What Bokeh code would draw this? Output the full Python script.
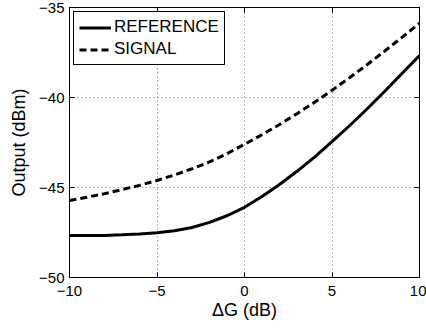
from bokeh.plotting import figure
from bokeh.models import Range1d, FixedTicker, LinearAxis, Legend, LegendItem
from bokeh.embed import file_html
from bokeh.resources import INLINE

# ---- data ----
delta_g = [-10, -9, -8, -7, -6, -5, -4, -3, -2, -1, 0, 1, 2, 3, 4, 5, 6, 7, 8, 9, 10]
reference = [-47.67, -47.67, -47.66, -47.63, -47.58, -47.52, -47.40, -47.22, -46.94,
             -46.57, -46.10, -45.50, -44.83, -44.10, -43.31, -42.45, -41.57, -40.64,
             -39.67, -38.67, -37.67]
signal = [-45.72, -45.54, -45.34, -45.12, -44.88, -44.61, -44.30, -43.96, -43.58,
          -43.12, -42.60, -42.07, -41.50, -40.90, -40.27, -39.60, -38.90, -38.18,
          -37.43, -36.66, -35.87]
x_ticks = [-10, -5, 0, 5, 10]
x_tick_labels = ["\u221210", "\u22125", "0", "5", "10"]
y_ticks = [-50, -45, -40, -35]
y_tick_labels = ["\u221250", "\u221245", "\u221240", "\u221235"]
series_names = ["REFERENCE", "SIGNAL"]
x_title = "\u0394G (dB)"
y_title = "Output (dBm)"

FONT = "Liberation Sans"

p = figure(width=426, height=332, output_backend="svg", toolbar_location=None,
           x_range=Range1d(-10, 10), y_range=Range1d(-50, -35),
           min_border_left=69, min_border_right=7, min_border_top=7, min_border_bottom=55,
           background_fill_color="white", border_fill_color="white")

p.outline_line_color = "black"
p.outline_line_width = 1
p.outline_line_alpha = 1

def style_axis(ax, ticks, labels, show_labels=True):
    ax.ticker = FixedTicker(ticks=ticks)
    ax.major_tick_in = 5
    ax.major_tick_out = 0
    ax.minor_tick_in = 0
    ax.minor_tick_out = 0
    ax.axis_line_color = "black"
    ax.axis_line_width = 1
    ax.major_tick_line_color = "black"
    ax.major_tick_line_width = 1
    if show_labels:
        ax.major_label_overrides = {t: l for t, l in zip(ticks, labels)}
        ax.major_label_text_font = FONT
        ax.major_label_text_color = "black"
        ax.major_label_text_font_size = "15px"
        ax.axis_label_text_font = FONT
        ax.axis_label_text_font_style = "normal"
        ax.axis_label_text_color = "black"
        ax.axis_label_text_font_size = "18px"
    else:
        ax.major_label_text_color = None
        ax.major_label_text_font_size = "1px"
        ax.major_label_standoff = 0

xa = p.xaxis[0]
style_axis(xa, x_ticks, x_tick_labels)
xa.axis_label = x_title
xa.major_label_standoff = 8
xa.axis_label_standoff = 1

ya = p.yaxis[0]
style_axis(ya, y_ticks, y_tick_labels)
ya.axis_label = y_title
ya.major_label_standoff = 5
ya.axis_label_standoff = 7

top_ax = LinearAxis()
style_axis(top_ax, x_ticks, x_tick_labels, show_labels=False)
p.add_layout(top_ax, "above")
right_ax = LinearAxis()
style_axis(right_ax, y_ticks, y_tick_labels, show_labels=False)
p.add_layout(right_ax, "right")

for g, t in ((p.xgrid[0], x_ticks), (p.ygrid[0], y_ticks)):
    g.ticker = FixedTicker(ticks=t)
    g.grid_line_color = "#444444"
    g.grid_line_alpha = 0.8
    g.grid_line_width = 1
    g.grid_line_dash = "1 3"

r1 = p.line(delta_g, reference, line_color="black", line_width=3)
r2 = p.line(delta_g, signal, line_color="black", line_width=3, line_dash="7 4")

legend = Legend(items=[LegendItem(label=series_names[0], renderers=[r1]),
                       LegendItem(label=series_names[1], renderers=[r2])],
                location="top_left")
legend.margin = 4
legend.padding = 5
legend.spacing = 2
legend.glyph_width = 32
legend.glyph_height = 19
legend.label_height = 19
legend.label_standoff = 3
legend.label_text_font = FONT
legend.label_text_font_size = "17px"
legend.label_text_color = "black"
legend.border_line_color = "black"
legend.border_line_width = 1
legend.border_line_alpha = 1
legend.background_fill_color = "white"
legend.background_fill_alpha = 1
p.add_layout(legend, "center")

open("out.html", "w").write(file_html(p, INLINE))
